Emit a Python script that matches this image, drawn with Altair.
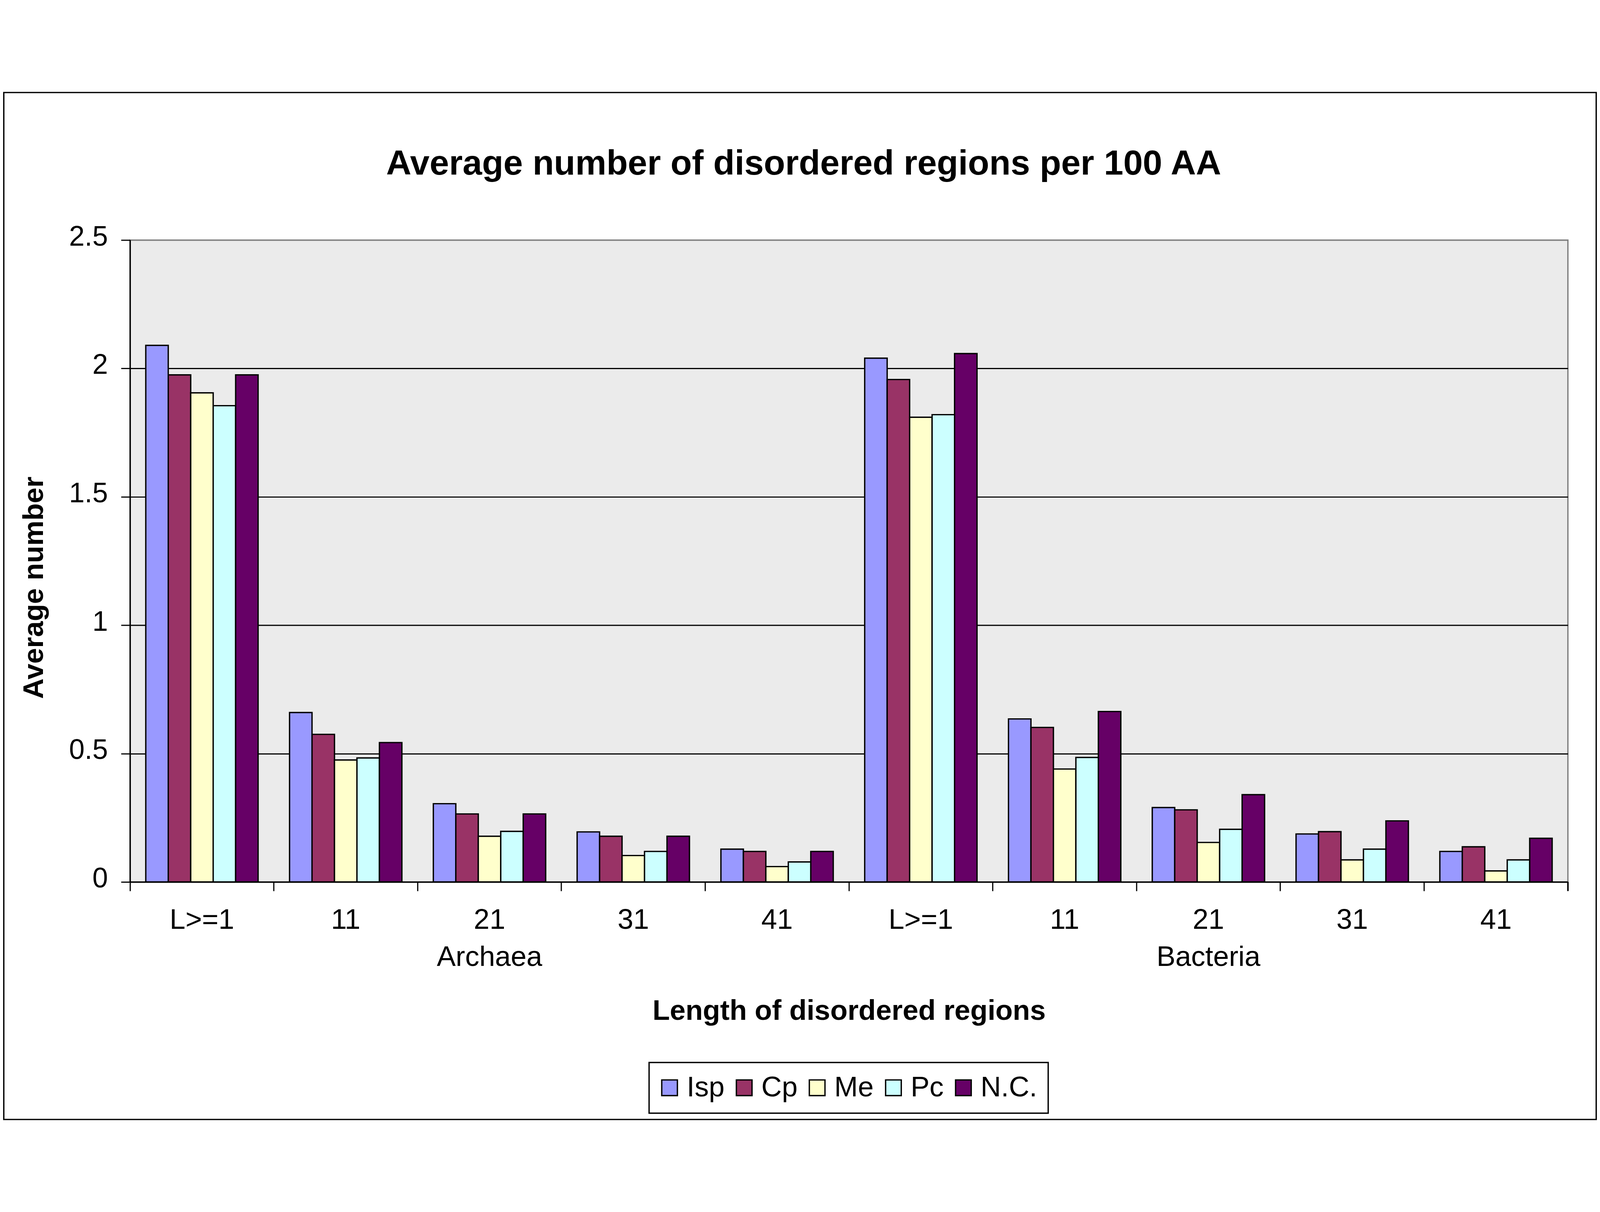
import altair as alt
import pandas as pd

# ---- data ----
groups = ["Archaea", "Bacteria"]
lengths = ["L>=1", "11", "21", "31", "41"]
series = ["Isp", "Cp", "Me", "Pc", "N.C."]
colors = ["#9999FF", "#993366", "#FFFFCC", "#CCFFFF", "#660066"]

# values: Archaea (5 lengths) then Bacteria (5 lengths)
isp = [2.09, 0.66, 0.305, 0.195, 0.128, 2.04, 0.635, 0.29, 0.187, 0.119]
cp = [1.975, 0.575, 0.265, 0.178, 0.119, 1.957, 0.602, 0.281, 0.196, 0.137]
me = [1.905, 0.475, 0.178, 0.103, 0.060, 1.81, 0.44, 0.154, 0.086, 0.043]
pc = [1.855, 0.483, 0.197, 0.119, 0.078, 1.82, 0.485, 0.205, 0.128, 0.086]
nc = [1.975, 0.543, 0.265, 0.178, 0.119, 2.058, 0.664, 0.34, 0.238, 0.17]

y_ticks = [0, 0.5, 1, 1.5, 2, 2.5]

cats = [f"{g}|{l}" for g in groups for l in lengths]
vals = {"Isp": isp, "Cp": cp, "Me": me, "Pc": pc, "N.C.": nc}
rows = []
for s in series:
    for c, v in zip(cats, vals[s]):
        rows.append({"cat": c, "series": s, "value": v})
df = pd.DataFrame(rows)

FONT = "Liberation Sans"
W, H = 4316, 1927
mid = lengths[len(lengths) // 2]

label_expr = (
    f"split(datum.value,'|')[1] == '{mid}' ? "
    "[split(datum.value,'|')[1], split(datum.value,'|')[0]] : "
    "split(datum.value,'|')[1]"
)

x_enc = alt.X(
    "cat:N",
    sort=cats,
    scale=alt.Scale(paddingInner=0, paddingOuter=0),
    axis=alt.Axis(
        title="Length of disordered regions",
        titleFont=FONT, titleFontSize=85, titleFontWeight="bold",
        titleColor="black", titleBaseline="alphabetic",
        titleX=W / 2, titleY=413,
        bandPosition=0,
        labelExpr=label_expr, labelFont=FONT, labelFontSize=85,
        labelColor="black", labelBaseline="top", labelAlign="center",
        labelLineHeight=112, labelPadding=46, labelOverlap=False,
        labelAngle=0, labelLimit=2000,
        tickSize=27, tickWidth=3.5, tickColor="black",
        domainColor="black", domainWidth=4, grid=False,
    ),
)

y_enc = alt.Y(
    "value:Q",
    scale=alt.Scale(domain=[0, 2.5], nice=False, zero=True),
    axis=alt.Axis(
        title="Average number",
        titleFont=FONT, titleFontSize=85, titleFontWeight="bold",
        titleColor="black", titleBaseline="alphabetic", titleAngle=270,
        titleX=-262, titleY=1043, titleAlign="center",
        values=y_ticks, format=".1~f",
        labelFont=FONT, labelFontSize=84, labelColor="black",
        labelPadding=40, labelOffset=-9,
        tickSize=27, tickWidth=3.5, tickColor="black",
        domainColor="black", domainWidth=4,
        grid=True, gridWidth=3.5,
        gridColor={"condition": {"test": "datum.value >= 2.5", "value": "#808080"},
                   "value": "black"},
    ),
)

bars = alt.Chart(df).mark_bar(stroke="black", strokeWidth=4).encode(
    x=x_enc,
    xOffset=alt.XOffset("series:N", sort=series,
                        scale=alt.Scale(paddingInner=0, paddingOuter=0.7)),
    y=y_enc,
    color=alt.Color(
        "series:N", sort=series,
        scale=alt.Scale(domain=series, range=colors),
        legend=alt.Legend(
            title=None, orient="none", direction="horizontal",
            legendX=1558, legendY=2469,
            symbolType="square", symbolSize=2209,
            symbolStrokeColor="black", symbolStrokeWidth=4,
            symbolOffset=-14,
            labelFont=FONT, labelFontSize=85, labelColor="black",
            labelOffset=9, columnPadding=27, padding=33, labelLimit=2000,
            strokeColor="black", fillColor="white",
        ),
    ),
)

# closing tick at the right end of the category axis
end_tick = alt.Chart(df).transform_filter(
    alt.datum.cat == cats[-1]
).mark_rule(color="black", strokeWidth=3.5).encode(
    x=alt.X("cat:N", sort=cats, bandPosition=1),
    y=alt.value(H),
    y2=alt.value(H + 27),
)

# outer chart frame
frame = alt.Chart(alt.Data(values=[{"f": 1}])).mark_rect(
    filled=False, stroke="black", strokeWidth=4
).encode(
    x=alt.value(-379), x2=alt.value(4401),
    y=alt.value(-443), y2=alt.value(2640),
)

chart = alt.layer(bars, end_tick, frame).properties(
    width=W,
    height=H,
    autosize=alt.AutoSizeParams(type="pad"),
    padding=0,
    background="white",
    title=alt.TitleParams(
        "Average number of disordered regions per 100 AA",
        font=FONT, fontSize=105, fontWeight="bold", color="black",
        frame="group", anchor="middle", dx=-136, offset=-353,
        baseline="alphabetic",
    ),
).configure_view(
    fill="#EBEBEB", stroke="#808080", strokeWidth=4
).configure_legend(
    strokeWidth=4
)

chart.save("out.html", embed_options={"renderer": "svg", "actions": False})
